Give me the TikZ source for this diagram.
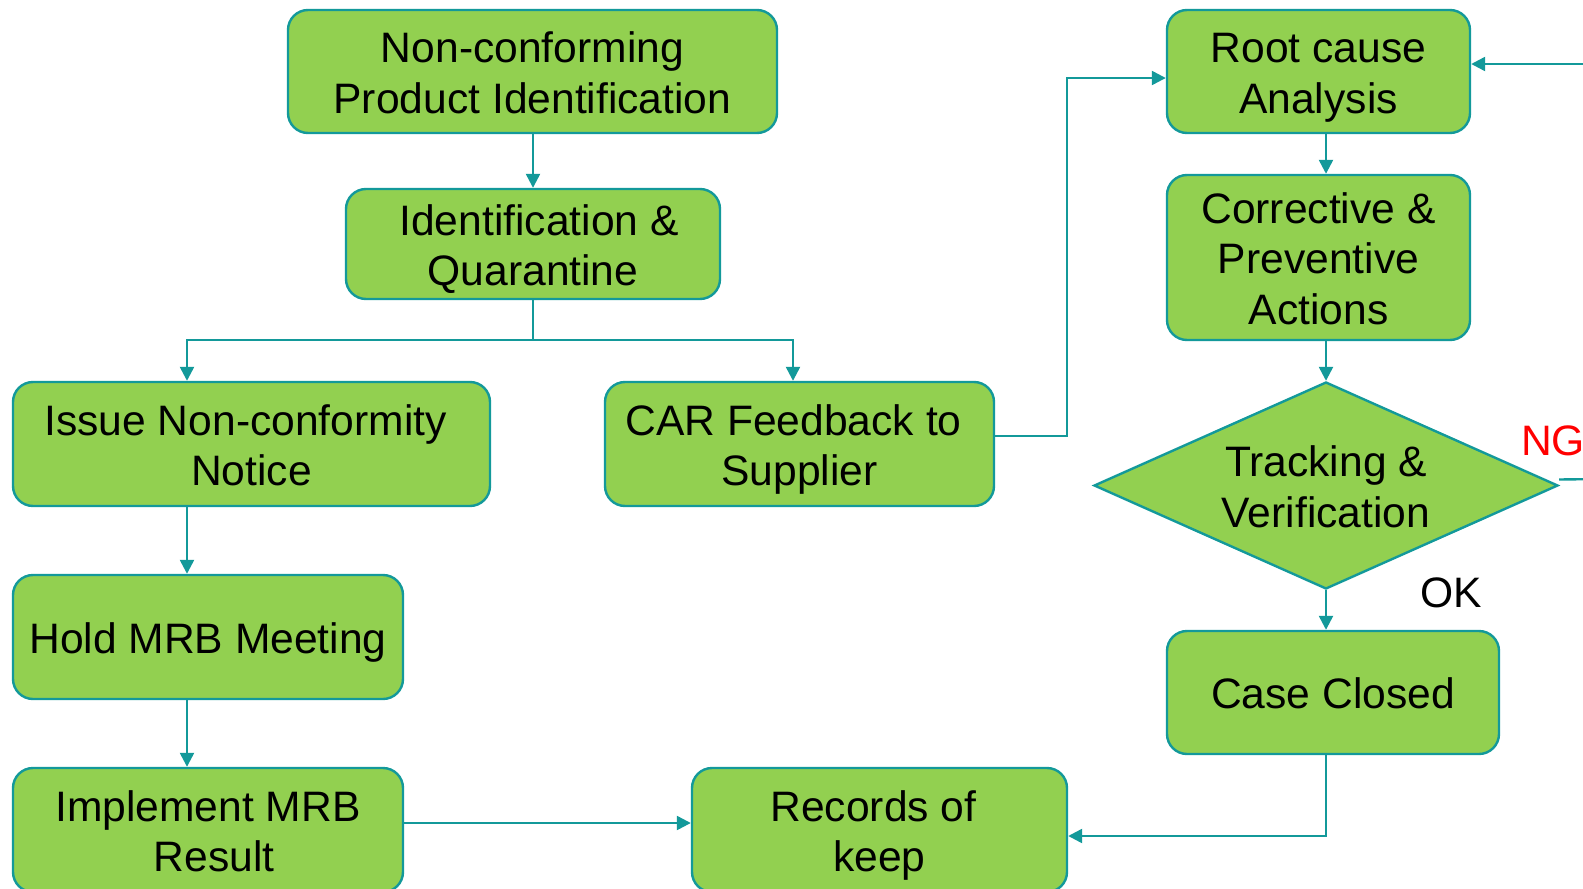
\documentclass[tikz,border=0pt]{standalone}
\usepackage{fontspec}
\setmainfont{Liberation Sans}
\usetikzlibrary{arrows.meta,shapes.geometric}
\definecolor{boxfill}{HTML}{92D050}
\definecolor{edgecol}{HTML}{13999A}
\definecolor{ngred}{HTML}{FF0000}
% fixed line height so every label sits at the same place in its box
\newcommand\lnstrut{\rule[-9pt]{0pt}{50.5pt}}
\newcommand\gap{\hspace*{12pt}}
\begin{document}
\begin{tikzpicture}[x=1pt,y=-1pt,
  every node/.style={font=\fontsize{42.6}{50.5}\selectfont},
  box/.style={draw=edgecol,fill=boxfill,line width=2.4pt,rounded corners=20pt,
              align=center,inner sep=0pt},
  decision/.style={diamond,draw=edgecol,fill=boxfill,line width=2.4pt,align=center,
              inner sep=0pt,aspect=2.24},
  conn/.style={draw=edgecol,line width=2.4pt},
  arr/.style={conn,-{Triangle[length=14pt,width=14pt]}}]
\useasboundingbox (0,0) rectangle (1583,889);
\clip (0,0) rectangle (1583,889);

% column guides for the connectors
\coordinate (colL) at (187,0);
\coordinate (colC) at (793,0);
\coordinate (colR) at (1326,0);

% process boxes
\node[box,minimum width=489pt,minimum height=123pt] (nc) at (532.5,71.5)
  {\lnstrut Non-conforming\\Product Identification\lnstrut};
\node[box,minimum width=374pt,minimum height=110pt] (iq) at (533,244)
  {\lnstrut\gap Identification \&\\Quarantine\lnstrut};
\node[box,minimum width=477pt,minimum height=124pt] (issue) at (251.5,444)
  {\lnstrut Issue Non-conformity\gap\\Notice\lnstrut};
\node[box,minimum width=389pt,minimum height=124pt] (car) at (799.5,444)
  {\lnstrut CAR Feedback to\gap\\Supplier\lnstrut};
\node[box,minimum width=390pt,minimum height=124pt] (hold) at (208,637)
  {\lnstrut Hold MRB Meeting};
\node[box,minimum width=390pt,minimum height=124pt] (impl) at (208,830)
  {\lnstrut Implement MRB\\\gap Result\lnstrut};
\node[box,minimum width=375pt,minimum height=124pt] (rec) at (879.5,830)
  {\lnstrut Records of\gap\\keep\lnstrut};
\node[box,minimum width=303pt,minimum height=123pt] (root) at (1318.5,71.5)
  {\lnstrut Root cause\\Analysis\lnstrut};
\node[box,minimum width=303pt,minimum height=165pt] (cpa) at (1318.5,257.5)
  {\lnstrut Corrective \&\\Preventive\\Actions\lnstrut};
\node[decision,minimum width=464pt,minimum height=207pt] (tv) at (1326,485.5)
  {\lnstrut Tracking \&\\Verification\lnstrut};
\node[box,minimum width=332pt,minimum height=123pt] (closed) at (1333,692.5)
  {\lnstrut Case Closed};

% branch labels
\node[text=ngred] (ng) at (1553,441) {NG};
\node (ok) at (1451,593) {OK};
\coordinate (ngout) at (1600,479);
\coordinate (ngin) at (1600,64);
\coordinate (split) at (533,340);

% connectors
\draw[arr] (nc.south -| iq.north) -- (iq.north);
\draw[conn] (iq.south) -- (split);
\draw[arr] (split) -| (colL |- issue.north);
\draw[arr] (split) -| (colC |- car.north);
\draw[arr] (colL |- issue.south) -- (colL |- hold.north);
\draw[arr] (colL |- hold.south) -- (colL |- impl.north);
\draw[arr] ([yshift=7pt]impl.east) -- ([yshift=7pt]rec.west);
\draw[arr] ([yshift=8pt]car.east) -| (1067,78) -- ([yshift=-6.5pt]root.west);
\draw[arr] (ngin) -- ([yshift=7.5pt]root.east);
\draw[arr] (colR |- root.south) -- (colR |- cpa.north);
\draw[arr] (colR |- cpa.south) -- (tv.north);
\draw[conn] ([yshift=6pt]tv.east) -- (ngout);
\draw[arr] (tv.south) -- (colR |- closed.north);
\draw[arr] (colR |- closed.south) |- ([yshift=-6pt]rec.east);
\end{tikzpicture}
\end{document}
